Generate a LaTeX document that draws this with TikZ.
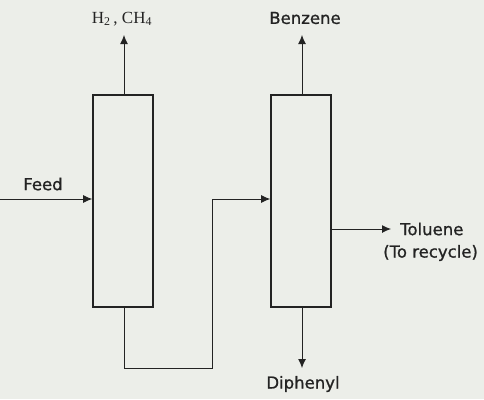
\documentclass[tikz,border=0pt]{standalone}
\usepackage{fontspec}
\setmainfont{DejaVu Sans}[FakeBold=1]
\newfontfamily\serifchem{Liberation Serif}
\usetikzlibrary{arrows.meta}
\definecolor{paper}{RGB}{236,238,233}
\definecolor{ink}{RGB}{35,35,35}
\tikzset{
  x=1pt, y=-1pt,
  column/.style={draw=ink, line width=1.6pt, minimum width=60pt, minimum height=212pt, inner sep=0pt},
  flow/.style={draw=ink, line width=0.9pt, -{Latex[length=9pt,width=8pt]}},
  lbl/.style={text=ink, font=\fontsize{16.5}{19}\selectfont, inner sep=0pt}
}
\begin{document}
\begin{tikzpicture}
\fill[paper] (0,0) rectangle (484,399);
\useasboundingbox (0,0) rectangle (484,399);
% two columns
\node[column] (c1) at (123,201) {};
\node[column] (c2) at (301,201) {};
% labels
\node[lbl, font=\serifchem\fontsize{17}{19}\selectfont] (gas) at (122,19) {H\textsubscript{2}\,, CH\textsubscript{4}};
\node[lbl] (benz) at (305,18) {Benzene};
\node[lbl] (feed) at (43,184) {Feed};
\node[lbl, anchor=west] (tol) at (400,229) {Toluene};
\node[lbl, anchor=west] (rec) at (383,253) {(To recycle)};
\node[lbl] (diph) at (303,384) {Diphenyl};
% stream end points
\coordinate (fin) at (0,199);
\coordinate (gtop) at (124,35);
\coordinate (btop) at (302,35);
\coordinate (tend) at (391,229);
\coordinate (dend) at (302,368);
\coordinate (l1) at (124,368);
\coordinate (l2) at (212,368);
\coordinate (l3) at (212,199);
% streams
\draw[flow] (fin) -- (fin -| c1.west);
\draw[flow] (gtop |- c1.north) -- (gtop);
\draw[flow] (btop |- c2.north) -- (btop);
\draw[flow] (tend -| c2.east) -- (tend);
\draw[flow] (dend |- c2.south) -- (dend);
\draw[flow] (l1 |- c1.south) -- (l1) -- (l2) -- (l3) -- (l3 -| c2.west);
\end{tikzpicture}
\end{document}
